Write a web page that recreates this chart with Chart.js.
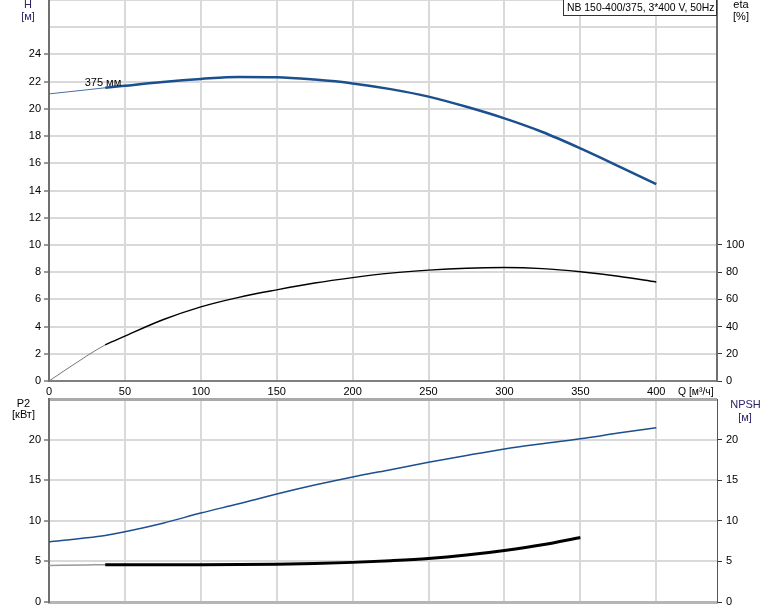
<!DOCTYPE html>
<html>
<head>
<meta charset="utf-8">
<title>NB 150-400/375, 3*400 V, 50Hz</title>
<script src="https://cdn.jsdelivr.net/npm/chart.js@4.4.1/dist/chart.umd.min.js"></script>
<style>
  body { margin: 0; background: #fff; }
  #wrap { position: relative; width: 774px; height: 611px; }
  canvas { position: absolute; left: 0; }
  #top { top: 0; }
  #bottom { top: 398px; }
</style>
</head>
<body>
<div id="wrap">
  <canvas id="top" width="774" height="398"></canvas>
  <canvas id="bottom" width="774" height="213"></canvas>
</div>
<script>
// flow Q [m3/h] and the curves
const flow = [0, 25, 37, 50, 75, 100, 125, 150, 175, 200, 225, 250, 275, 300, 325, 350, 375, 400];
const head = [21.1, 21.4, 21.55, 21.7, 21.98, 22.2, 22.35, 22.33, 22.15, 21.87, 21.45, 20.9, 20.15, 19.3, 18.3, 17.1, 15.8, 14.46];
const eta = [0, 18.5, 26.5, 33, 45, 54.5, 61.5, 67, 72, 76, 79.3, 81.5, 82.9, 83.4, 82.6, 80.3, 77, 72.8];
const power = [7.4, 7.9, 8.2, 8.65, 9.7, 10.95, 12.1, 13.3, 14.4, 15.4, 16.3, 17.2, 18.05, 18.85, 19.5, 20.1, 20.8, 21.45];
const flowNpsh = [0, 25, 37, 50, 100, 150, 175, 200, 225, 250, 275, 300, 325, 350];
const npsh = [4.5, 4.55, 4.6, 4.6, 4.6, 4.65, 4.74, 4.88, 5.08, 5.35, 5.78, 6.35, 7.05, 7.95];

// ticks
const qTicks = [0, 50, 100, 150, 200, 250, 300, 350, 400];
const hGrid = [0, 2, 4, 6, 8, 10, 12, 14, 16, 18, 20, 22, 24, 26, 28];
const hTicks = [0, 2, 4, 6, 8, 10, 12, 14, 16, 18, 20, 22, 24];
const etaTicks = [0, 20, 40, 60, 80, 100];
const p2Grid = [0, 5, 10, 15, 20, 25];
const p2Ticks = [0, 5, 10, 15, 20];
const npshTicks = [0, 5, 10, 15, 20];

const title = 'NB 150-400/375, 3*400 V, 50Hz';
const curveLabel = '375 мм';
const thinUntil = 37; // curves are drawn thin below this flow

const font = { family: "'Liberation Sans', Arial, sans-serif", size: 11 };
const fontCss = "11px 'Liberation Sans', Arial, sans-serif";
const smallFontCss = "10.4px 'Liberation Sans', Arial, sans-serif";
const gridColor = '#d9d9d9';
const tickMark = '#333';
const blue = '#1b4f8e';

function pts(xs, ys) { return xs.map((x, i) => ({ x: x, y: ys[i] })); }
function setTicks(values) { return s => { s.ticks = values.map(v => ({ value: v })); }; }
function thin(a, b) { return c => c.p0.parsed.x < thinUntil ? a : b; }
// fixed axis size, no extra room for label overhang
function fixSize(prop, size) {
  return s => {
    s[prop] = size;
    s.paddingTop = 0; s.paddingBottom = 0; s.paddingLeft = 0; s.paddingRight = 0;
  };
}

const commonOpts = {
  responsive: false,
  animation: false,
  devicePixelRatio: 1,
  elements: { point: { radius: 0 }, line: { cubicInterpolationMode: 'monotone', fill: false } },
  plugins: { legend: { display: false }, tooltip: { enabled: false } }
};

function text(ctx, s, x, y, color, align) {
  ctx.fillStyle = color;
  ctx.textAlign = align || 'center';
  ctx.textBaseline = 'middle';
  ctx.fillText(s, x, y);
}

const topLabels = {
  id: 'topLabels',
  afterDraw(chart) {
    const ctx = chart.ctx;
    ctx.save();
    ctx.font = fontCss;
    text(ctx, 'H', 28, 5, '#2c2466');
    text(ctx, '[м]', 28, 17, '#2c2466');
    text(ctx, 'eta', 741, 5, '#000');
    text(ctx, '[%]', 741, 17, '#000');
    const sx = chart.scales.x, sy = chart.scales.y;
    text(ctx, curveLabel, sx.getPixelForValue(23.5), sy.getPixelForValue(21.9), '#000', 'left');
    // title box
    ctx.fillStyle = '#fff';
    ctx.fillRect(563.5, -1, 153, 16.5);
    ctx.strokeStyle = '#333';
    ctx.lineWidth = 1;
    ctx.strokeRect(563.5, -1, 153, 16.5);
    ctx.font = smallFontCss;
    text(ctx, title, 567, 8, '#000', 'left');
    text(ctx, 'Q [м³/ч]', 678, 392, '#000', 'left');
    ctx.restore();
  }
};

const bottomLabels = {
  id: 'bottomLabels',
  afterDraw(chart) {
    const ctx = chart.ctx;
    ctx.save();
    ctx.font = fontCss;
    text(ctx, 'P2', 23.5, 6, '#000');
    text(ctx, '[кВт]', 23.5, 16.5, '#000');
    text(ctx, 'NPSH', 745.5, 7, '#2c2466');
    text(ctx, '[м]', 745, 20, '#2c2466');
    ctx.restore();
  }
};

new Chart(document.getElementById('top'), {
  type: 'line',
  data: {
    datasets: [
      {
        data: pts(flow, head), yAxisID: 'y', borderColor: blue, borderWidth: 2.5,
        segment: { borderWidth: thin(1, 2.5), borderColor: thin('#4a6fa5', blue) }
      },
      {
        data: pts(flow, eta), yAxisID: 'y2', borderColor: '#000', borderWidth: 1.4,
        segment: { borderWidth: thin(1, 1.4), borderColor: thin('#777', '#000') }
      }
    ]
  },
  options: Object.assign({}, commonOpts, {
    layout: { autoPadding: false, padding: 0 },
    scales: {
      x: {
        type: 'linear', min: 0, max: 440,
        afterBuildTicks: setTicks(qTicks),
        afterFit: fixSize('height', 17),
        grid: { color: gridColor, lineWidth: 2, drawTicks: false },
        border: { color: '#7f7f7f', width: 2 },
        ticks: { font: font, color: '#000', padding: 4, maxRotation: 0, autoSkip: false }
      },
      y: {
        position: 'left', min: 0, max: 28,
        afterBuildTicks: setTicks(hGrid),
        afterFit: fixSize('width', 49),
        grid: {
          color: gridColor, lineWidth: 2, tickLength: 5, tickWidth: 1,
          tickColor: c => hTicks.includes(c.tick.value) ? tickMark : 'rgba(0,0,0,0)'
        },
        border: { color: '#6f6f6f', width: 2 },
        ticks: { font: font, color: '#000', padding: 3, callback: v => hTicks.includes(v) ? v : '' }
      },
      y2: {
        position: 'right', min: 0, max: 280,
        afterBuildTicks: setTicks(etaTicks),
        afterFit: fixSize('width', 57),
        grid: { drawOnChartArea: false, tickLength: 5, tickWidth: 1, tickColor: tickMark },
        border: { color: '#6f6f6f', width: 2 },
        ticks: { font: font, color: '#000', padding: 4 }
      }
    }
  }),
  plugins: [topLabels]
});

new Chart(document.getElementById('bottom'), {
  type: 'line',
  data: {
    datasets: [
      {
        data: pts(flow, power), yAxisID: 'y', borderColor: blue, borderWidth: 1.5
      },
      {
        data: pts(flowNpsh, npsh), yAxisID: 'y2', borderColor: '#000', borderWidth: 3,
        segment: { borderWidth: thin(1.5, 3), borderColor: thin('#999', '#000') }
      }
    ]
  },
  options: Object.assign({}, commonOpts, {
    layout: { autoPadding: false, padding: { top: 1, left: 0, right: 0, bottom: 0 } },
    scales: {
      x: {
        type: 'linear', min: 0, max: 440,
        afterBuildTicks: setTicks(qTicks),
        afterFit: fixSize('height', 9),
        grid: { color: gridColor, lineWidth: 2, drawTicks: false },
        border: { color: '#b5b5b5', width: 3 },
        ticks: { display: false }
      },
      y: {
        position: 'left', min: 0, max: 25,
        afterBuildTicks: setTicks(p2Grid),
        afterFit: fixSize('width', 49),
        grid: {
          color: c => c.tick.value === 25 ? '#a9a9a9' : gridColor,
          lineWidth: c => c.tick.value === 25 ? 3 : 2,
          tickLength: 5, tickWidth: 1,
          tickColor: c => p2Ticks.includes(c.tick.value) ? tickMark : 'rgba(0,0,0,0)'
        },
        border: { color: '#6f6f6f', width: 2 },
        ticks: { font: font, color: '#000', padding: 3, callback: v => p2Ticks.includes(v) ? v : '' }
      },
      y2: {
        position: 'right', min: 0, max: 25,
        afterBuildTicks: setTicks(npshTicks),
        afterFit: fixSize('width', 57),
        grid: { drawOnChartArea: false, tickLength: 5, tickWidth: 1, tickColor: tickMark },
        border: { color: '#555', width: 1 },
        ticks: { font: font, color: '#000', padding: 4 }
      }
    }
  }),
  plugins: [bottomLabels]
});
</script>
</body>
</html>
